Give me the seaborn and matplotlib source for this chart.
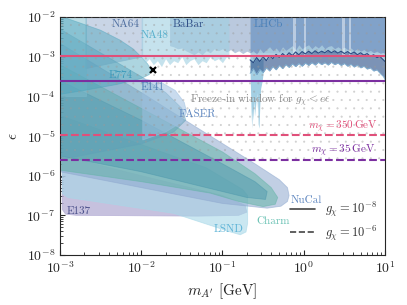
import numpy as np
import matplotlib
matplotlib.use("Agg")
import matplotlib.pyplot as plt
import seaborn as sns

# exclusion contours as log10(m_A' / GeV), log10(eps)
e137_logm = [-2.97, -2.97, -2.93, -2.8, -1.3, -0.8, -0.7, -0.72, -1.0, -2.0, -2.97]
e137_logeps = [-5.5, -6.85, -6.97, -7.0, -7.02, -7.0, -6.92, -6.75, -6.5, -6.0, -5.5]

lsnd_logm = [-2.97, -2.97, -2.9, -1.6, -0.9, -0.78, -0.71, -0.69, -0.69, -0.75, -1.2, -2.97]
lsnd_logeps = [-4.5, -6.45, -6.55, -6.95, -7.42, -7.49, -7.42, -7.2, -6.5, -6.35, -5.8, -4.5]

nucal_logm = [-3, -2.0, -1.46, -0.6, -0.3, -0.2, -0.18, -0.2, -0.28, -0.45, -1.0, -2.0, -3]
nucal_logeps = [-2.66, -3.9, -4.6, -5.7, -6.1, -6.3, -6.5, -6.65, -6.77, -6.82, -6.7, -6.3, -5.9]

charm_logm = [-3, -2.0, -1.0, -0.6, -0.4, -0.32, -0.35, -0.5, -0.8, -1.15, -2.0, -3]
charm_logeps = [-3.2, -4.3, -5.4, -5.95, -6.3, -6.55, -6.72, -6.78, -6.65, -6.44, -6.15, -5.86]

inner_logm = [-3, -2.0, -1.0, -0.6, -0.45, -0.47, -0.7, -1.2, -2.0, -3]
inner_logeps = [-3.6, -4.6, -5.7, -6.15, -6.4, -6.6, -6.55, -6.3, -5.9, -5.5]

e141_logm = [-3, -2.5, -2.0, -1.7, -1.5, -1.45, -1.6, -2.0, -3]
e141_logeps = [-2.3, -2.9, -3.5, -3.9, -4.3, -4.6, -4.9, -5.2, -5.6]

lowmass_logm = [-3, -2.68, -2.68, -3]
lowmass_logeps = [-1.5, -1.5, -4.0, -4.0]

e774_logm = [-3, -2.96, -2.75, -2.5, -2.26, -2.1, -2.0, -1.92, -1.88, -1.9, -2.0, -2.3, -2.7, -3]
e774_logeps = [-1.5, -2.0, -2.15, -2.33, -2.58, -2.8, -3.0, -3.18, -3.32, -3.45, -3.55, -3.7,
               -3.85, -3.95]

faser_logm = [-1.98, -1.75, -1.58, -1.47, -1.44, -1.5, -1.7, -1.98]
faser_logeps = [-3.55, -3.65, -3.85, -4.15, -4.4, -4.65, -4.9, -5.1]

na64_logm = [-2.68, -1.98, -1.98, -2.68]
na64_logeps = [-1.5, -1.5, -3.0, -3.3]

# collider / fixed target limits (jagged lower edges)
na48_logm = [-2.0, -1.95, -1.9, -1.85, -1.8, -1.75, -1.7, -1.65, -1.6, -1.55, -1.5, -1.45, -1.4,
             -1.35, -1.3, -1.25, -1.2, -1.15, -1.1, -1.05, -1.0, -0.95, -0.92]
na48_logeps = [-3.0, -3.15, -3.05, -3.2, -3.1, -3.25, -3.05, -3.2, -3.1, -3.15, -3.0, -3.2, -3.1,
               -3.05, -3.2, -3.1, -3.15, -3.0, -3.1, -3.05, -3.15, -3.0, -3.05]

babar_logm = [-1.65, -1.6, -1.55, -1.5, -1.45, -1.4, -1.35, -1.3, -1.25, -1.2, -1.15, -1.1,
              -1.05, -1.0, -0.95, -0.9, -0.85, -0.8, -0.75, -0.7, -0.66, 0.0, 1.0]
babar_logeps = [-2.72, -2.75, -2.8, -2.78, -2.85, -2.9, -2.95, -2.88, -2.95, -2.85, -2.9, -2.8,
                -2.85, -2.8, -2.88, -2.82, -2.9, -2.85, -2.92, -2.86, -2.9, -2.9, -2.9]

lhcb_logm = [-0.66, -0.62, -0.58, -0.54, -0.50, -0.46, -0.42, -0.38, -0.34, -0.30,
             -0.26, -0.22, -0.18, -0.14, -0.10, -0.06, -0.02, 0.02, 0.06, 0.10,
             0.14, 0.18, 0.22, 0.26, 0.30, 0.34, 0.38, 0.42, 0.46, 0.50,
             0.54, 0.58, 0.62, 0.66, 0.70, 0.74, 0.78, 0.82, 0.86, 0.90,
             0.94, 0.98, 1.0]
lhcb_top_logeps = [-2.9, -2.85, -2.95, -2.8, -2.9, -2.82, -2.75, -2.85, -2.78, -2.88,
                   -2.75, -2.84, -2.78, -2.72, -2.83, -2.7, -2.8, -2.74, -2.7, -2.8,
                   -2.72, -2.78, -2.7, -2.8, -2.74, -2.72, -2.8, -2.75, -2.8, -2.76,
                   -2.82, -2.78, -2.85, -2.8, -2.86, -2.82, -2.88, -2.84, -2.9, -2.86,
                   -2.92, -2.9, -2.95]
lhcb_hi_logeps = [-3.08, -3.15, -3.02, -3.12, -3.0, -3.1, -2.97, -3.05, -2.94, -3.02,
                  -2.92, -2.99, -2.9, -2.97, -2.88, -2.95, -2.87, -2.93, -2.86, -2.92,
                  -2.85, -2.91, -2.86, -2.9, -2.84, -2.9, -2.85, -2.91, -2.86, -2.92,
                  -2.87, -2.93, -2.88, -2.95, -2.9, -2.96, -2.92, -2.99, -2.95, -3.02,
                  -3.0, -3.08, -3.12]
lhcb_lo_logeps = [-3.42, -3.3, -3.45, -3.32, -3.4, -3.28, -3.36, -3.25, -3.33, -3.22,
                  -3.3, -3.2, -3.27, -3.18, -3.25, -3.17, -3.24, -3.16, -3.22, -3.15,
                  -3.21, -3.14, -3.2, -3.15, -3.21, -3.14, -3.2, -3.16, -3.22, -3.17,
                  -3.24, -3.19, -3.26, -3.21, -3.28, -3.24, -3.31, -3.28, -3.36, -3.33,
                  -3.42, -3.5, -3.58]
lhcb_veto_m = [(0.74, 0.80), (1.0, 1.06), (2.95, 3.2), (3.6, 3.8)]

displaced_logm = [-0.66, -0.65, -0.64, -0.63, -0.62, -0.61, -0.6, -0.59, -0.58, -0.57, -0.56,
                  -0.55, -0.54, -0.53, -0.52, -0.51, -0.5]
displaced_logeps = [-3.4, -4.2, -4.8, -4.3, -4.6, -4.1, -4.5, -4.0, -4.3, -3.9, -4.7,
                    -4.8, -4.2, -3.8, -3.7, -3.6, -3.4]

x_marker = (0.0140, 4.6e-4)

hline_values = [1.05e-3, 2.5e-4, 1.07e-5, 2.5e-6]
hline_colors = ["#e0507a", "#7b2fa0", "#e0507a", "#7b2fa0"]
hline_styles = ["-", "-", "--", "--"]

sns.set_style("ticks")
plt.rcParams["font.family"] = ["cmr10", "DejaVu Serif"]
plt.rcParams["mathtext.fontset"] = "cm"
plt.rcParams["axes.formatter.use_mathtext"] = True
plt.rcParams["hatch.linewidth"] = 0.3

fig = plt.figure(figsize=(4.07, 3.05), dpi=100)
ax = fig.add_axes([0.147, 0.164, 0.799, 0.78])


def region(logm, logeps, color, alpha):
    ax.fill(10 ** np.array(logm), 10 ** np.array(logeps), facecolor=color, alpha=alpha,
            edgecolor=color, lw=0.6)


region(na64_logm, na64_logeps, "#bccbe0", 0.8)
region(e137_logm, e137_logeps, "#b3acd4", 0.75)
region(lsnd_logm, lsnd_logeps, "#a7d8e8", 0.6)
region(nucal_logm, nucal_logeps, "#8ea8cf", 0.55)
region(charm_logm, charm_logeps, "#5fb3a3", 0.5)
region(inner_logm, inner_logeps, "#3f8fa8", 0.4)
region(e141_logm, e141_logeps, "#5fa0b8", 0.45)
region(lowmass_logm, lowmass_logeps, "#7fbccd", 0.5)
region(e774_logm, e774_logeps, "#4aa3bb", 0.45)
region(faser_logm, faser_logeps, "#9dbfe0", 0.55)

top = 1e-1
m = 10 ** np.array(babar_logm)
ax.fill_between(m, 10 ** np.array(babar_logeps), top, color="#b3c3db", alpha=0.9, lw=0)
m = 10 ** np.array(na48_logm)
ax.fill_between(m, 10 ** np.array(na48_logeps), top, color="#9fd0e2", alpha=0.6, lw=0)
m = 10 ** np.array(displaced_logm)
ax.fill_between(m, 10 ** np.array(displaced_logeps), 1e-3, color="#8cc3dc", alpha=0.8, lw=0)

m = 10 ** np.array(lhcb_logm)
lhcb_top = 10 ** np.array(lhcb_top_logeps)
lhcb_hi = 10 ** np.array(lhcb_hi_logeps)
lhcb_lo = 10 ** np.array(lhcb_lo_logeps)
ax.fill_between(m, lhcb_hi, lhcb_top, color="#9cc6dc", alpha=0.8, lw=0)
ax.fill_between(m, lhcb_top, top, color="#6f95c2", alpha=0.75, lw=0)
ax.fill_between(m, lhcb_lo, lhcb_hi, color="#36598f", alpha=0.65, lw=0)
sns.lineplot(x=m, y=lhcb_hi, ax=ax, color="#2a4a82", lw=0.8)
sns.lineplot(x=m, y=lhcb_lo, ax=ax, color="#7fb0d2", lw=0.6)
for lo, hi in lhcb_veto_m:
    ax.fill_between([lo, hi], 1e-3, top, color="white", alpha=0.45, lw=0)

# dotted background
ax.fill_between([1e-3, 1e1], 2.5e-6, 1e-2, facecolor="none", edgecolor="#9a9a9a",
                hatch="..", lw=0, zorder=3, alpha=0.4)

for y, c, ls in zip(hline_values, hline_colors, hline_styles):
    ax.axhline(y, color=c, ls=ls, lw=1.5, zorder=4)

ax.plot(*x_marker, marker="x", color="black", ms=5, mew=1.6, zorder=5)

ax.plot([], [], color="#444444", lw=1.2, label=r"$g_\chi = 10^{-8}$")
ax.plot([], [], color="#444444", lw=1.2, ls="--", label=r"$g_\chi = 10^{-6}$")
ax.legend(loc="lower left", frameon=False, fontsize=9, handlelength=2.0, handletextpad=0.8,
          labelspacing=0.35, borderpad=0.2, bbox_to_anchor=(0.68, 0.015),
          labelcolor="#333333")

labels = [
    ("NA64", 6.5e-3, 6.7e-3, "#4f6fa0"),
    ("NA48", 0.0148, 3.5e-3, "#58b0cc"),
    ("BaBar", 0.0376, 6.7e-3, "#2f4f87"),
    ("LHCb", 0.363, 6.7e-3, "#4a80b8"),
    ("E774", 5.6e-3, 3.5e-4, "#3d9bbb"),
    ("E141", 0.014, 1.72e-4, "#4f7fb5"),
    ("FASER", 0.0485, 3.6e-5, "#5f87c0"),
    ("NuCal", 1.07, 2.44e-7, "#5f87c0"),
    ("Charm", 0.42, 7.2e-8, "#6ac2b4"),
    ("LSND", 0.12, 4.5e-8, "#5cb3d6"),
    ("E137", 1.7e-3, 1.29e-7, "#4a4f8a"),
]
for txt, x, y, c in labels:
    ax.text(x, y, txt, color=c, fontsize=8, ha="center", va="center", zorder=6)

ax.text(0.0398, 8.1e-5, r"Freeze-in window for $g_\chi < e\epsilon$", color="#8a8a8a",
        fontsize=8, ha="left", va="center", zorder=6)
ax.text(8.2, 1.7e-5, r"$m_\chi = 350\,\mathrm{GeV}$", color="#e0507a", fontsize=8,
        ha="right", va="center", zorder=6)
ax.text(7.5, 4.2e-6, r"$m_\chi = 35\,\mathrm{GeV}$", color="#7b2fa0", fontsize=8,
        ha="right", va="center", zorder=6)

ax.set_xscale("log")
ax.set_yscale("log")
ax.set_xlim(1e-3, 1e1)
ax.set_ylim(1e-8, 1e-2)
ax.tick_params(which="both", direction="in", labelsize=10)
ax.set_xlabel(r"$m_{A'}$ [GeV]", fontsize=11)
ax.set_ylabel(r"$\epsilon$", fontsize=11)

fig.savefig("out.png", dpi=100)
